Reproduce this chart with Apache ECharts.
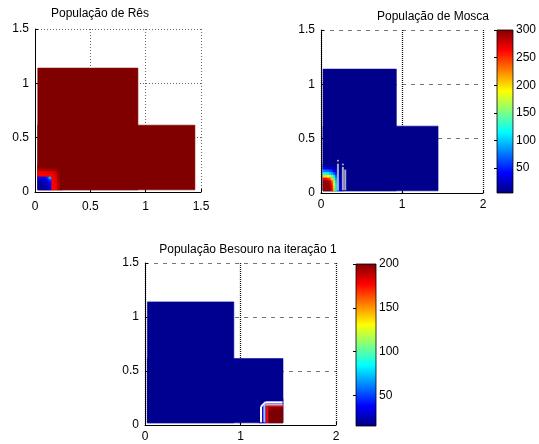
<!DOCTYPE html>
<html><head><meta charset="utf-8">
<script src="https://cdn.jsdelivr.net/npm/echarts@6/dist/echarts.min.js"></script>
<style>html,body{margin:0;padding:0;background:#fff}#c{width:539px;height:444px}</style>
</head><body><div id="c"></div>
<script>
// ---------- data ----------
const titles = ['População de Rês', 'População de Mosca', 'População Besouro na iteração 1'];
const xMax = [1.5, 2, 2];
const xInterval = [0.5, 1, 1];
const yMax = 1.5;
const yInterval = 0.5;
// L-shaped domain as two overlapping rectangles: [x0, x1, y0, y1]
const domainRects = [[0.025, 0.93, 0.02, 1.14], [0.025, 1.445, 0.02, 0.615]];
// colour ranges
const colorMin = [0, 5, 15];
const colorMax = [300, 300, 200];
const baseValue = [300, 8, 18];
const cbTicks1 = [50, 100, 150, 200, 250, 300];
const cbTicks2 = [50, 100, 150, 200];
// detail grids (cell step 0.025), rows from bottom
const detailStep = 0.025;
const detailOrigin = [[0.025, 0.02], [0.025, 0.02], [1.195, 0.02]];
const detailRes = [
  [ 12, 10, 11, 16, 32, 261, 262, 285, 300],
  [ 11, 10, 11, 17, 34, 261, 263, 285, 300],
  [ 14, 12, 13, 20, 38, 261, 264, 286, 300],
  [ 22, 20, 21, 28, 50, 262, 266, 287, 300],
  [ 34, 33, 36, 50, 90, 263, 268, 288, 300],
  [262, 261, 261, 262, 263, 264, 270, 290, 300],
  [264, 264, 265, 266, 268, 270, 276, 292, 300],
  [285, 285, 286, 287, 288, 290, 292, 296, 300],
  [300, 300, 300, 300, 300, 300, 300, 300, 300]
];
const detailMosca = [
  [294, 294, 294, 294, 270, 205, 123, 79, 40, 14],
  [294, 294, 294, 294, 266, 200, 120, 77, 38, 14],
  [294, 294, 292, 288, 256, 190, 115, 72, 36, 13],
  [292, 292, 288, 280, 240, 175, 105, 65, 32, 12],
  [266, 262, 255, 240, 205, 150,  92, 55, 28, 11],
  [200, 198, 190, 175, 150, 115,  72, 42, 22, 10],
  [122, 120, 115, 105,  92,  72,  50, 30, 16,  9],
  [ 78,  76,  72,  65,  55,  42,  30, 20, 12,  8],
  [ 40,  38,  36,  32,  28,  22,  16, 12,  9,  8],
  [ 14,  14,  13,  12,  11,  10,   9,  8,  8,  8]
];
const detailBesouro = [
  [18, 30, 45, 176, 200, 200, 200, 200, 200, 200],
  [18, 30, 45, 176, 200, 200, 200, 200, 200, 200],
  [18, 30, 45, 176, 200, 200, 200, 200, 200, 200],
  [18, 30, 45, 176, 200, 200, 200, 200, 200, 200],
  [18, 30, 45, 176, 200, 200, 200, 200, 200, 200],
  [18, 30, 45, 176, 200, 200, 200, 200, 200, 200],
  [18, 25, 45, 176, 176, 176, 176, 176, 176, 176],
  [18, 18, 30,  45,  45,  45,  45,  45,  45,  45],
  [18, 18, 18,  18,  18,  18,  18,  18,  18,  18]
];
// thin light marks: [x0, y0, x1, y1]
const moscaMarks = [
  [0.209, 0.025, 0.209, 0.27], [0.209, 0.29, 0.209, 0.305],
  [0.270, 0.025, 0.270, 0.24], [0.270, 0.255, 0.270, 0.27],
  [0.299, 0.025, 0.299, 0.215]
];
const besouroWhite = [
  [1.215, 0.025, 1.215, 0.17], [1.215, 0.17, 1.262, 0.21], [1.262, 0.21, 1.44, 0.21]
];
const besouroGray = [
  [1.250, 0.025, 1.250, 0.185], [1.250, 0.185, 1.262, 0.19], [1.262, 0.19, 1.44, 0.19]
];
const jet = ['#000080', '#0000ff', '#0080ff', '#00ffff', '#80ff80', '#ffff00', '#ff8000', '#ff0000', '#800000'];

// ---------- build ----------
const FONT = 'Liberation Sans, Arial, sans-serif';
const details = [detailRes, detailMosca, detailBesouro];
function cellItems(k) {
  const items = domainRects.map(r => [r[0], r[1], r[2], r[3], baseValue[k]]);
  const o = detailOrigin[k];
  details[k].forEach((row, j) => row.forEach((v, i) => {
    items.push([o[0] + i * detailStep, o[0] + (i + 1) * detailStep, o[1] + j * detailStep, o[1] + (j + 1) * detailStep, v]);
  }));
  return items;
}
function renderCell(params, api) {
  const a = api.coord([api.value(0), api.value(2)]);
  const b = api.coord([api.value(1), api.value(3)]);
  const c = api.visual('color');
  return { type: 'rect', shape: { x: a[0], y: b[1], width: b[0] - a[0], height: a[1] - b[1] },
    style: { fill: c, stroke: c, lineWidth: 0.6 } };
}
function markSeries(k, data, color) {
  return { type: 'custom', xAxisIndex: k, yAxisIndex: k, data: data, encode: { x: [0, 2], y: [1, 3] },
    silent: true,
    renderItem: function (params, api) {
      const a = api.coord([api.value(0), api.value(1)]);
      const b = api.coord([api.value(2), api.value(3)]);
      return { type: 'line', shape: { x1: a[0], y1: a[1], x2: b[0], y2: b[1] }, style: { stroke: color, lineWidth: 2 } };
    } };
}
function colorbarSeries(idx, k) {
  return { type: 'custom', xAxisIndex: idx, yAxisIndex: idx, data: [[0, 1, colorMin[k], colorMax[k]]],
    encode: { x: [0, 1], y: [2, 3] }, silent: true,
    renderItem: function (params, api) {
      const a = api.coord([api.value(0), api.value(2)]);
      const b = api.coord([api.value(1), api.value(3)]);
      const stops = jet.map((c, i) => ({ offset: i / (jet.length - 1), color: jet[jet.length - 1 - i] }));
      return { type: 'rect', shape: { x: a[0], y: b[1], width: b[0] - a[0], height: a[1] - b[1] },
        style: { fill: new echarts.graphic.LinearGradient(0, 0, 0, 1, stops), stroke: '#000', lineWidth: 0.8 } };
    } };
}

const grids = [
  { left: 35, top: 29, width: 166, height: 163 },
  { left: 321, top: 30, width: 162, height: 163 },
  { left: 145, top: 263, width: 191, height: 162 },
  { left: 497, top: 30, width: 18, height: 163 },
  { left: 356, top: 264, width: 20, height: 162 }
];
const xMargins = [9, 6, 6];
const xAxes = [], yAxes = [];
for (let k = 0; k < 3; k++) {
  const dotted = k === 0;
  xAxes.push({ gridIndex: k, type: 'value', min: 0, max: xMax[k], interval: xInterval[k],
    axisLine: { show: true, onZero: false, lineStyle: { color: '#000', width: 1 } },
    axisTick: { show: true, inside: true, length: 3, lineStyle: { color: '#000' } },
    axisLabel: { color: '#000', fontSize: 12, fontFamily: FONT, margin: xMargins[k] },
    splitLine: { show: true, lineStyle: { color: dotted ? '#666' : '#111', width: dotted ? 1 : 1.3, type: dotted ? [1, 2] : [1, 1] } } });
  yAxes.push({ gridIndex: k, type: 'value', min: 0, max: yMax, interval: yInterval,
    axisLine: { show: true, onZero: false, lineStyle: { color: '#000', width: 1 } },
    axisTick: { show: true, inside: true, length: 3, lineStyle: { color: '#000' } },
    axisLabel: { color: '#000', fontSize: 12, fontFamily: FONT, margin: 6 },
    splitLine: { show: true, lineStyle: { color: dotted ? '#666' : '#777', width: 1, type: dotted ? [1, 2] : [4, 5] } } });
}
[[3, 1, cbTicks1], [4, 2, cbTicks2]].forEach(([g, k, ticks]) => {
  xAxes.push({ gridIndex: g, type: 'value', min: 0, max: 1, show: false });
  yAxes.push({ gridIndex: g, type: 'value', min: colorMin[k], max: colorMax[k], position: 'right',
    axisLine: { show: false }, splitLine: { show: false },
    axisTick: { show: true, inside: true, length: 3, customValues: ticks, lineStyle: { color: '#000' } },
    axisLabel: { customValues: ticks, color: '#000', fontSize: 12, fontFamily: FONT, margin: 3 } });
});

const series = [0, 1, 2].map(k => ({ type: 'custom', xAxisIndex: k, yAxisIndex: k, data: cellItems(k),
  dimensions: ['x0', 'x1', 'y0', 'y1', 'v'], encode: { x: [0, 1], y: [2, 3] }, silent: true, renderItem: renderCell }));
series.push(markSeries(1, moscaMarks, '#a8a8cc'));
series.push(markSeries(2, besouroWhite, '#ffffff'));
series.push(markSeries(2, besouroGray, '#b8b8dc'));
series.push(colorbarSeries(3, 1));
series.push(colorbarSeries(4, 2));

const titlePos = [[100, 8], [433, 11], [248, 244]];
const option = {
  animation: false,
  backgroundColor: '#fff',
  title: titles.map((t, k) => ({ text: t, left: titlePos[k][0], top: titlePos[k][1], textAlign: 'center', padding: 0,
    textStyle: { color: '#000', fontSize: 12, fontWeight: 'normal', fontFamily: FONT } })),
  grid: grids,
  xAxis: xAxes,
  yAxis: yAxes,
  visualMap: [0, 1, 2].map(k => ({ type: 'continuous', show: false, seriesIndex: k, dimension: 4,
    min: colorMin[k], max: colorMax[k], inRange: { color: jet } })),
  series: series
};
const chart = echarts.init(document.getElementById('c'), null, { renderer: 'canvas' });
chart.setOption(option);
</script></body></html>
